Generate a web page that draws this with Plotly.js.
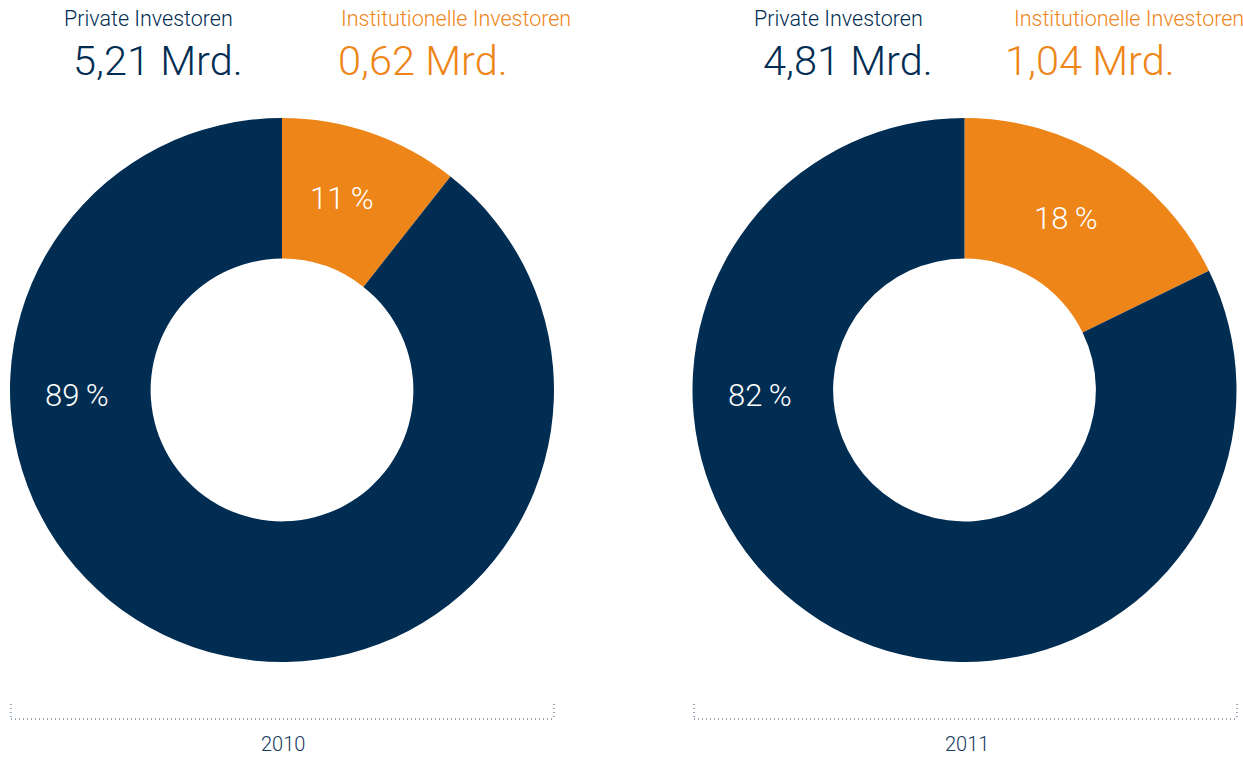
<!DOCTYPE html>
<html><head><meta charset="utf-8">
<script src="https://cdn.plot.ly/plotly-3.0.1.min.js"></script>
<style>html,body{margin:0;padding:0;background:#fff}#c{width:1243px;height:757px}</style>
</head><body><div id="c"></div>
<script>
const years = ['2010', '2011'];
const seriesNames = ['Private Investoren', 'Institutionelle Investoren'];
const privateVals = [5.21, 4.81];
const institutionalVals = [0.62, 1.04];

const NAVY = '#012d53', ORANGE = '#ee8518';
const FONT = 'Roboto, "Liberation Sans", sans-serif';
const W = 1243, H = 757;
const px = x => x / W, py = y => 1 - y / H;
const fmt = v => v.toFixed(2).replace('.', ',') + ' Mrd.';
const pct = (v, s) => Math.round(v / s * 100) + '\u2009%';

const pieX = [[10, 554], [692, 1237]];
const traces = [], annotations = [], shapes = [];
years.forEach((yr, i) => {
  const sum = privateVals[i] + institutionalVals[i];
  traces.push({
    type: 'pie', sort: false, direction: 'clockwise', rotation: 0,
    values: [institutionalVals[i], privateVals[i]],
    labels: [seriesNames[1], seriesNames[0]],
    textinfo: 'none',
    hole: 0.483,
    marker: {colors: [ORANGE, NAVY], line: {width: 0}},
    domain: {x: [px(pieX[i][0]), px(pieX[i][1])], y: [py(662), py(118)]},
    showlegend: false, hoverinfo: 'label+value'
  });
  const off = i === 0 ? 0 : 690;
  annotations.push(
    {text: seriesNames[0], x: px(62 + off), y: py(19), xanchor: 'left', yanchor: 'middle', font: {family: FONT, size: 21.5, color: NAVY, weight: 300}},
    {text: fmt(privateVals[i]), x: px(71 + off), y: py(60), xanchor: 'left', yanchor: 'middle', font: {family: FONT, size: 41.5, color: NAVY, weight: 300}},
    {text: seriesNames[1], x: px(339 + off - (i ? 17 : 0)), y: py(19), xanchor: 'left', yanchor: 'middle', font: {family: FONT, size: 21.5, color: ORANGE, weight: 300}},
    {text: fmt(institutionalVals[i]), x: px(336 + off - (i ? 23 : 0)), y: py(60), xanchor: 'left', yanchor: 'middle', font: {family: FONT, size: 41.5, color: ORANGE, weight: 300}},
    {text: pct(institutionalVals[i], sum), x: px(i === 0 ? 342 : 1066), y: py(198 + (i ? 20 : 0)), xanchor: 'center', yanchor: 'middle', font: {family: FONT, size: 31, color: '#ffffff', weight: 300}},
    {text: pct(privateVals[i], sum), x: px(i === 0 ? 77 : 760), y: py(395), xanchor: 'center', yanchor: 'middle', font: {family: FONT, size: 31, color: '#ffffff', weight: 300}},
    {text: yr, x: px(i === 0 ? 283 : 967), y: py(744), xanchor: 'center', yanchor: 'middle', font: {family: FONT, size: 20, color: '#15385d', weight: 300}}
  );
  const x0 = i === 0 ? 11 : 694, x1 = i === 0 ? 554 : 1237;
  const lineStyle = {color: '#2d4a6c', width: 1, dash: '1px,3px'};
  shapes.push(
    {type: 'line', xref: 'paper', yref: 'paper', x0: px(x0), x1: px(x1), y0: py(719), y1: py(719), line: lineStyle},
    {type: 'line', xref: 'paper', yref: 'paper', x0: px(x0), x1: px(x0), y0: py(704), y1: py(719), line: lineStyle},
    {type: 'line', xref: 'paper', yref: 'paper', x0: px(x1), x1: px(x1), y0: py(704), y1: py(719), line: lineStyle}
  );
});
annotations.forEach(a => { a.xref = 'paper'; a.yref = 'paper'; a.showarrow = false; });

Plotly.newPlot('c', traces, {
  width: W, height: H, margin: {l: 0, r: 0, t: 0, b: 0},
  paper_bgcolor: '#ffffff', annotations, shapes, showlegend: false
}, {displayModeBar: false, staticPlot: true});
</script></body></html>
